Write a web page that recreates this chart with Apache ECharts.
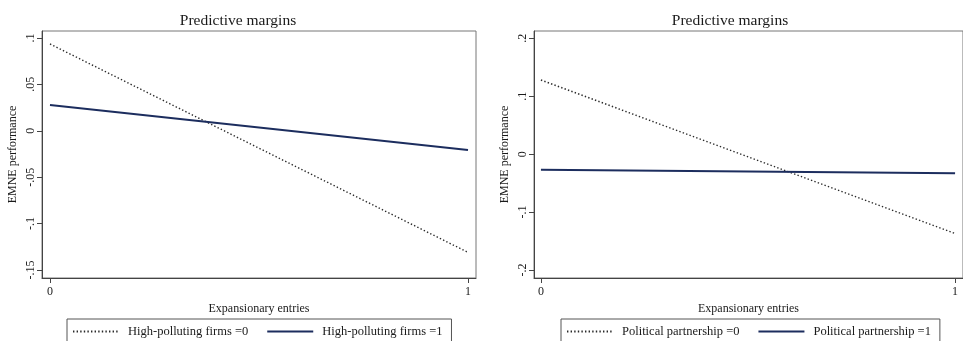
<!DOCTYPE html>
<html>
<head>
<meta charset="utf-8">
<script src="https://cdn.jsdelivr.net/npm/echarts@6/dist/echarts.min.js"></script>
<style>html,body{margin:0;padding:0;background:#fff;}#c{width:963px;height:341px;}</style>
</head>
<body>
<div id="c"></div>
<script>
// ---- data ----
const xValues = [0, 1];
const xTicks = [0, 1];
const highPolluting0 = [0.0935, -0.131];
const highPolluting1 = [0.0277, -0.0208];
const politicalPartnership0 = [0.128, -0.137];
const politicalPartnership1 = [-0.027, -0.033];
const leftYTicks = [-0.15, -0.1, -0.05, 0, 0.05, 0.1];
const rightYTicks = [-0.2, -0.1, 0, 0.1, 0.2];
const chartTitle = 'Predictive margins';
const xTitle = 'Expansionary entries';
const yTitle = 'EMNE performance';
const leftNames = ['High-polluting firms =0', 'High-polluting firms =1'];
const rightNames = ['Political partnership =0', 'Political partnership =1'];

function pairs(vals) { return xValues.map((x, i) => [x, vals[i]]); }
function stataFmt(v) {
  if (Math.abs(v) < 1e-9) return '0';
  let s = String(Math.round(v * 1000) / 1000);
  return s.replace(/^0\./, '.').replace(/^-0\./, '-.');
}

const FONT = 'Liberation Serif';
const TXT = '#1a1a1a';
const dotted = { color: '#2a2a2a', width: 1.4, type: [1.4, 2.2] };
const solid = { color: '#1c2d5e', width: 2 };

function xAxis(gridIndex, min, max) {
  return {
    type: 'value', gridIndex, min, max,
    name: xTitle, nameLocation: 'middle', nameGap: 18,
    nameTextStyle: { fontFamily: FONT, fontSize: 12, color: TXT },
    axisLine: { onZero: false, lineStyle: { color: '#444', width: 1 } },
    axisTick: { customValues: xTicks, length: 5, lineStyle: { color: '#444' } },
    axisLabel: { customValues: xTicks, margin: 8, fontFamily: FONT, fontSize: 12, color: TXT, formatter: stataFmt },
    splitLine: { show: false }
  };
}
function yAxis(gridIndex, min, max, ticks) {
  return {
    type: 'value', gridIndex, min, max,
    name: yTitle, nameLocation: 'middle', nameGap: 23,
    nameTextStyle: { fontFamily: FONT, fontSize: 12, color: TXT },
    axisLine: { show: true, onZero: false, lineStyle: { color: '#444', width: 1 } },
    axisTick: { show: true, customValues: ticks, length: 5, lineStyle: { color: '#444' } },
    axisLabel: { customValues: ticks, rotate: 90, margin: 5, fontFamily: FONT, fontSize: 12, color: TXT, formatter: stataFmt },
    splitLine: { show: false }
  };
}
function legend(left, names) {
  return {
    left, top: 319, orient: 'horizontal',
    data: names,
    itemWidth: 46, itemHeight: 14, itemGap: 18,
    padding: [6, 9, 6, 5],
    borderColor: '#555', borderWidth: 1,
    itemStyle: { opacity: 0 },
    textStyle: { fontFamily: FONT, fontSize: 12.5, color: TXT, padding: [0, 4, 0, 4] }
  };
}

const chart = echarts.init(document.getElementById('c'));
chart.setOption({
  animation: false,
  backgroundColor: '#fff',
  title: [
    { text: chartTitle, left: 238, top: 13, padding: 0, textAlign: 'center', textStyle: { fontFamily: FONT, fontSize: 15.5, fontWeight: 'normal', color: TXT } },
    { text: chartTitle, left: 730, top: 13, padding: 0, textAlign: 'center', textStyle: { fontFamily: FONT, fontSize: 15.5, fontWeight: 'normal', color: TXT } }
  ],
  grid: [
    { left: 42, top: 31, width: 434, height: 247, show: true, borderColor: '#777', borderWidth: 1 },
    { left: 534, top: 31, width: 433, height: 247, show: true, borderColor: '#777', borderWidth: 1 }
  ],
  xAxis: [xAxis(0, -0.0191, 1.0191), xAxis(1, -0.0167, 1.0191)],
  yAxis: [yAxis(0, -0.1586, 0.1075, leftYTicks), yAxis(1, -0.2138, 0.2126, rightYTicks)],
  legend: [legend(67, leftNames), legend(561, rightNames)],
  series: [
    { name: leftNames[0], type: 'line', xAxisIndex: 0, yAxisIndex: 0, data: pairs(highPolluting0), symbol: 'none', lineStyle: dotted, itemStyle: { color: dotted.color } },
    { name: leftNames[1], type: 'line', xAxisIndex: 0, yAxisIndex: 0, data: pairs(highPolluting1), symbol: 'none', lineStyle: solid, itemStyle: { color: solid.color } },
    { name: rightNames[0], type: 'line', xAxisIndex: 1, yAxisIndex: 1, data: pairs(politicalPartnership0), symbol: 'none', lineStyle: dotted, itemStyle: { color: dotted.color } },
    { name: rightNames[1], type: 'line', xAxisIndex: 1, yAxisIndex: 1, data: pairs(politicalPartnership1), symbol: 'none', lineStyle: solid, itemStyle: { color: solid.color } }
  ]
});
</script>
</body>
</html>
